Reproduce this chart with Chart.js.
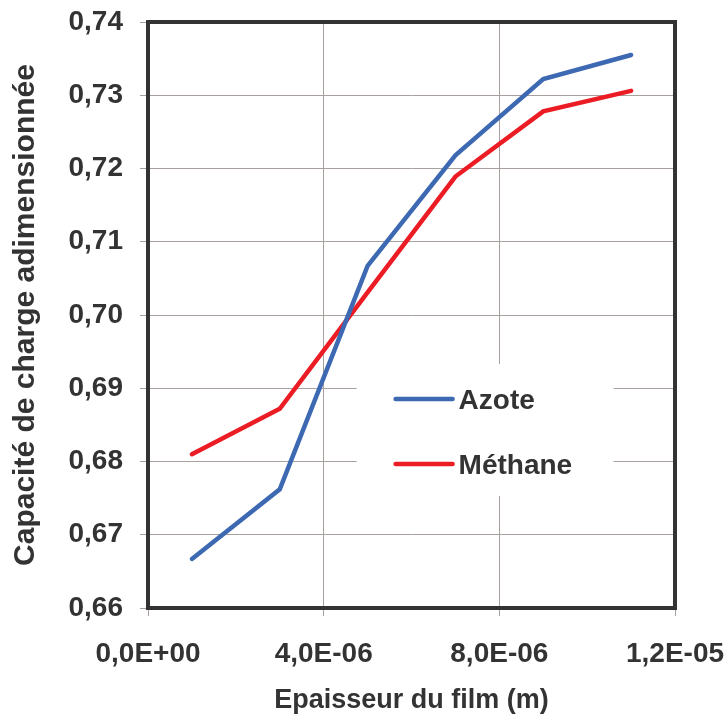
<!DOCTYPE html>
<html>
<head>
<meta charset="utf-8">
<script src="https://cdn.jsdelivr.net/npm/chart.js"></script>
<style>
  html, body { margin: 0; padding: 0; background: #fff; }
  #wrap { width: 728px; height: 717px; }
</style>
</head>
<body>
<div id="wrap"><canvas id="myChart" width="728" height="717"></canvas></div>
<script>
const epaisseur = [1e-6, 3e-6, 5e-6, 7e-6, 9e-6, 1.1e-5]
const azote = [0.6667, 0.6762, 0.7067, 0.7218, 0.7322, 0.7355]
const methane = [0.6810, 0.6872, 0.7031, 0.7189, 0.7278, 0.7306]
const xTicks = [0, 4e-6, 8e-6, 1.2e-5]
const xTickLabels = ["0,0E+00", "4,0E-06", "8,0E-06", "1,2E-05"]
const yTicks = [0.66, 0.67, 0.68, 0.69, 0.70, 0.71, 0.72, 0.73, 0.74]

const dark = "#333333"
const gridCol = "#a8a09c"
const font = "'Liberation Sans', Arial, sans-serif"

// legend drawn inside the plot, on a white box that hides the grid
const boxLegend = {
  id: "boxLegend",
  afterDatasetsDraw(chart) {
    const ctx = chart.ctx
    const x = chart.scales.x, y = chart.scales.y
    const left = x.getPixelForValue(4.75e-6)
    const right = x.getPixelForValue(10.6e-6)
    const top = y.getPixelForValue(0.6933)
    const bottom = y.getPixelForValue(0.6753)
    ctx.save()
    ctx.fillStyle = "#fff"
    ctx.fillRect(left, top, right - left, bottom - top)
    const rows = [399, 464]
    chart.data.datasets.forEach((ds, i) => {
      const yy = rows[i]
      ctx.strokeStyle = ds.borderColor
      ctx.lineWidth = 4.5
      ctx.lineCap = "round"
      ctx.beginPath()
      ctx.moveTo(left + 39, yy)
      ctx.lineTo(left + 96, yy)
      ctx.stroke()
      ctx.fillStyle = dark
      ctx.font = "bold 28px " + font
      ctx.textBaseline = "middle"
      ctx.fillText(ds.label, left + 102, yy + 2)
    })
    ctx.restore()
  },
}

new Chart(document.getElementById("myChart"), {
  type: "line",
  data: {
    datasets: [
      {
        label: "Azote",
        data: epaisseur.map((v, i) => ({ x: v, y: azote[i] })),
        borderColor: "#3d69b3",
        borderWidth: 4.5,
        pointRadius: 0,
        tension: 0,
        borderCapStyle: "round",
      },
      {
        label: "Méthane",
        data: epaisseur.map((v, i) => ({ x: v, y: methane[i] })),
        borderColor: "#ec1c25",
        borderWidth: 4.5,
        pointRadius: 0,
        tension: 0,
        borderCapStyle: "round",
      },
    ],
  },
  options: {
    responsive: false,
    animation: false,
    events: [],
    layout: { padding: { top: 22, right: 53, left: 0, bottom: 0 } },
    plugins: {
      legend: { display: false },
      tooltip: { enabled: false },
    },
    scales: {
      x: {
        type: "linear",
        min: 0,
        max: 1.2e-5,
        afterBuildTicks: (s) => { s.ticks = xTicks.map((v) => ({ value: v })) },
        afterFit: (s) => {
          s.height = 109
          s.paddingLeft = 0
          s.paddingRight = 0
        },
        ticks: {
          callback: (v, i) => xTickLabels[i],
          color: dark,
          font: { family: font, size: 28, weight: "bold" },
          padding: 21,
          maxRotation: 0,
          autoSkip: false,
        },
        grid: { color: gridCol, lineWidth: 1, tickLength: 8 },
        border: { color: dark, width: 4 },
        title: {
          display: true,
          text: "Epaisseur du film (m)",
          color: dark,
          font: { family: font, size: 27, weight: "bold" },
          padding: { top: 8, bottom: 0 },
        },
      },
      y: {
        min: 0.66,
        max: 0.74,
        afterBuildTicks: (s) => { s.ticks = yTicks.map((v) => ({ value: v })) },
        afterFit: (s) => {
          s.width = 148
          s.paddingTop = 0
          s.paddingBottom = 0
        },
        ticks: {
          callback: (v) => v.toFixed(2).replace(".", ","),
          color: dark,
          font: { family: font, size: 28, weight: "bold" },
          padding: 17,
        },
        grid: { color: gridCol, lineWidth: 1, tickLength: 8 },
        border: { color: dark, width: 4 },
        title: {
          display: true,
          text: "Capacité de charge adimensionnée",
          color: dark,
          font: { family: font, size: 30, weight: "bold" },
          padding: { top: 8, bottom: 0 },
        },
      },
    },
  },
  plugins: [
    boxLegend,
    {
      id: "frame",
      afterDatasetsDraw(chart) {
        const a = chart.chartArea, ctx = chart.ctx
        ctx.save()
        ctx.strokeStyle = dark
        ctx.lineWidth = 4
        ctx.strokeRect(a.left, a.top, a.right - a.left, a.bottom - a.top)
        ctx.restore()
      },
    },
  ],
})
</script>
</body>
</html>
